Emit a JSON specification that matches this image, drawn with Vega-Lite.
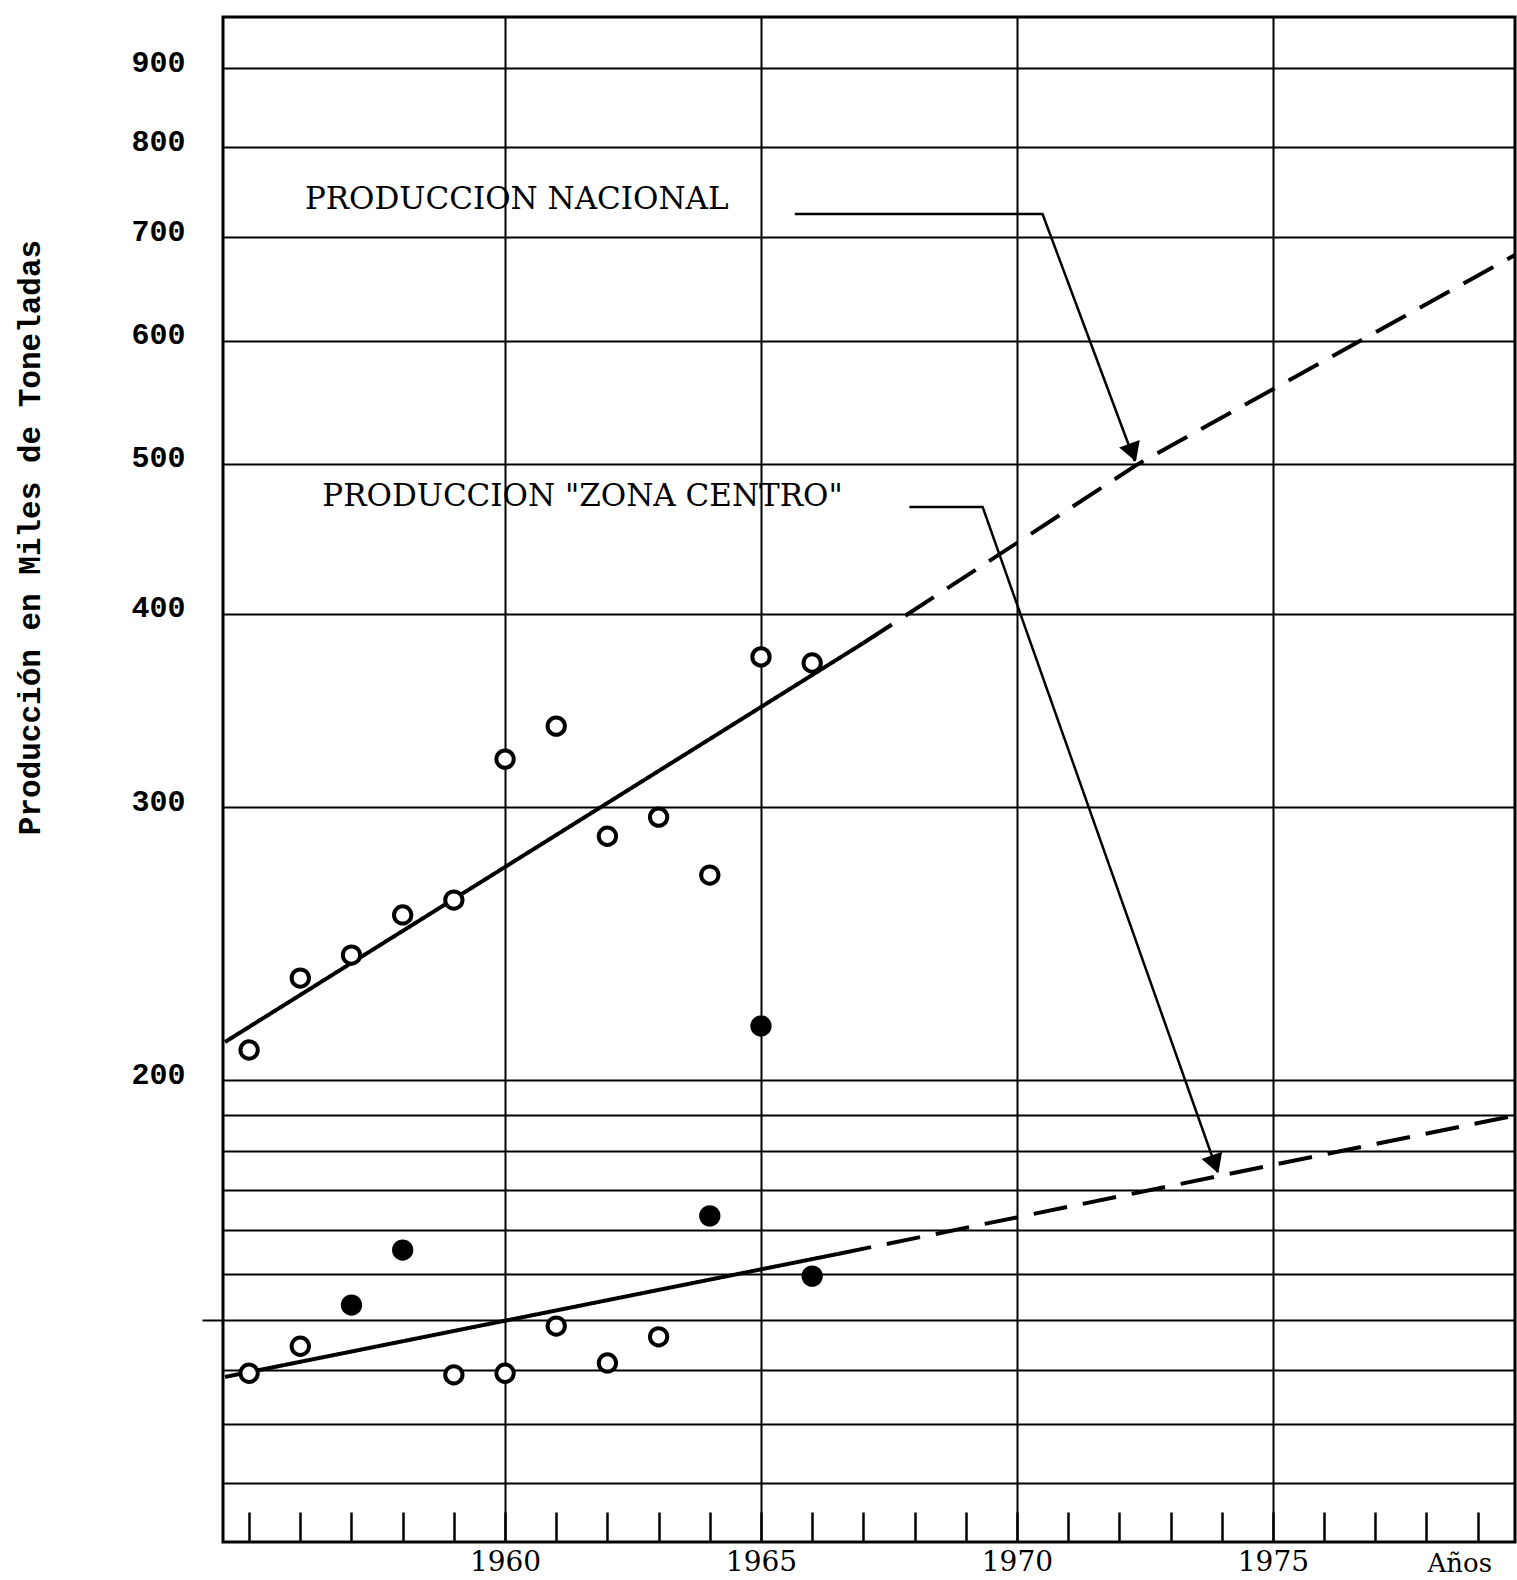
{
  "$schema": "https://vega.github.io/schema/vega-lite/v6.json",
  "width": 1292,
  "height": 1525,
  "autosize": {"type": "none"},
  "padding": {"left": 223, "top": 17, "right": 2, "bottom": 38},
  "background": "white",
  "config": {"view": {"stroke": "black", "strokeWidth": 3}},
  "datasets": {
    "puntos": [
      {"anio": 1955, "valor": 209.2, "serie": "Nacional", "marca": "abierto"},
      {"anio": 1956, "valor": 232.8, "serie": "Nacional", "marca": "abierto"},
      {"anio": 1957, "valor": 240.9, "serie": "Nacional", "marca": "abierto"},
      {"anio": 1958, "valor": 255.7, "serie": "Nacional", "marca": "abierto"},
      {"anio": 1959, "valor": 261.4, "serie": "Nacional", "marca": "abierto"},
      {"anio": 1960, "valor": 322.3, "serie": "Nacional", "marca": "abierto"},
      {"anio": 1961, "valor": 338.5, "serie": "Nacional", "marca": "abierto"},
      {"anio": 1962, "valor": 287.4, "serie": "Nacional", "marca": "abierto"},
      {"anio": 1963, "valor": 295.7, "serie": "Nacional", "marca": "abierto"},
      {"anio": 1964, "valor": 271.3, "serie": "Nacional", "marca": "abierto"},
      {"anio": 1965, "valor": 375.2, "serie": "Nacional", "marca": "abierto"},
      {"anio": 1965, "valor": 216.8, "serie": "Nacional", "marca": "relleno"},
      {"anio": 1966, "valor": 371.8, "serie": "Nacional", "marca": "abierto"},
      {"anio": 1955, "valor": 129.4, "serie": "Zona Centro", "marca": "abierto"},
      {"anio": 1956, "valor": 134.7, "serie": "Zona Centro", "marca": "abierto"},
      {"anio": 1957, "valor": 143.2, "serie": "Zona Centro", "marca": "relleno"},
      {"anio": 1958, "valor": 155.4, "serie": "Zona Centro", "marca": "relleno"},
      {"anio": 1959, "valor": 129.1, "serie": "Zona Centro", "marca": "abierto"},
      {"anio": 1960, "valor": 129.4, "serie": "Zona Centro", "marca": "abierto"},
      {"anio": 1961, "valor": 138.8, "serie": "Zona Centro", "marca": "abierto"},
      {"anio": 1962, "valor": 131.4, "serie": "Zona Centro", "marca": "abierto"},
      {"anio": 1963, "valor": 136.6, "serie": "Zona Centro", "marca": "abierto"},
      {"anio": 1964, "valor": 163.5, "serie": "Zona Centro", "marca": "relleno"},
      {"anio": 1966, "valor": 149.5, "serie": "Zona Centro", "marca": "relleno"}
    ],
    "tendencias": [
      {"serie": "Nacional", "tramo": "observado", "anio": 1954.53, "valor": 211.7},
      {"serie": "Nacional", "tramo": "observado", "anio": 1967.0, "valor": 383.0},
      {"serie": "Nacional", "tramo": "proyectado", "anio": 1967.0, "valor": 383.0},
      {"serie": "Nacional", "tramo": "proyectado", "anio": 1972.34, "valor": 499.1},
      {"serie": "Nacional", "tramo": "proyectado", "anio": 1979.73, "valor": 681.7},
      {"serie": "Zona Centro", "tramo": "observado", "anio": 1954.53, "valor": 128.7},
      {"serie": "Zona Centro", "tramo": "observado", "anio": 1966.5, "valor": 154.5},
      {"serie": "Zona Centro", "tramo": "proyectado", "anio": 1966.5, "valor": 154.5},
      {"serie": "Zona Centro", "tramo": "proyectado", "anio": 1979.73, "valor": 189.8}
    ],
    "guias": [
      {"guia": "Nacional", "orden": 1, "anio": 1965.66, "valor": 724.6},
      {"guia": "Nacional", "orden": 2, "anio": 1970.5, "valor": 724.6},
      {"guia": "Nacional", "orden": 3, "anio": 1972.3, "valor": 502},
      {"guia": "Zona Centro", "orden": 1, "anio": 1967.9, "valor": 468.8},
      {"guia": "Zona Centro", "orden": 2, "anio": 1969.33, "valor": 468.8},
      {"guia": "Zona Centro", "orden": 3, "anio": 1973.92, "valor": 174.5}
    ],
    "flechas": [
      {"guia": "Nacional", "anio": 1972.24, "valor": 510.5},
      {"guia": "Zona Centro", "anio": 1973.85, "valor": 177.3}
    ],
    "etiquetas": [
      {"anio": 1956.09, "valor": 739.8, "texto": "PRODUCCION NACIONAL"},
      {"anio": 1956.43, "valor": 475.8, "texto": "PRODUCCION \"ZONA CENTRO\""}
    ]
  },
  "encoding": {
    "x": {
      "field": "anio",
      "type": "quantitative",
      "scale": {"domain": [1954.49, 1979.73], "nice": false, "zero": false},
      "axis": {
        "values": [1955, 1956, 1957, 1958, 1959, 1960, 1961, 1962, 1963, 1964, 1965, 1966, 1967, 1968, 1969, 1970, 1971, 1972, 1973, 1974, 1975, 1976, 1977, 1978, 1979],
        "title": "Años",
        "grid": true,
        "gridColor": "black",
        "gridWidth": 2,
        "gridOpacity": {"condition": {"test": "datum.value % 5 === 0 && datum.value >= 1960", "value": 1}, "value": 0},
        "domain": false,
        "ticks": true,
        "tickSize": -30,
        "tickColor": "black",
        "tickWidth": 2.5,
        "labelExpr": "datum.value % 5 === 0 && datum.value >= 1960 ? format(datum.value, 'd') : ''",
        "labelFont": "DejaVu Serif",
        "labelFontSize": 28,
        "labelColor": "black",
        "labelPadding": 36,
        "labelOverlap": false,
        "labelFlush": false,
        "labelBound": false,
        "titleFont": "DejaVu Serif",
        "titleFontSize": 26,
        "titleFontWeight": "normal",
        "titleColor": "black",
        "titleX": 1204,
        "titleY": 21,
        "titleAlign": "left",
        "titleBaseline": "middle"
      }
    },
    "y": {
      "field": "valor",
      "type": "quantitative",
      "scale": {"type": "log", "domain": [100.7, 971], "nice": false},
      "axis": {
        "values": [110, 120, 130, 140, 150, 160, 170, 180, 190, 200, 300, 400, 500, 600, 700, 800, 900],
        "grid": true,
        "gridColor": "black",
        "gridWidth": 2,
        "domain": false,
        "ticks": true,
        "tickSize": 21,
        "tickWidth": 2,
        "tickColor": "black",
        "tickOpacity": {"condition": {"test": "datum.value === 140", "value": 1}, "value": 0},
        "labelExpr": "datum.value >= 200 && datum.value % 100 === 0 ? format(datum.value, 'd') : ''",
        "labelFont": "Liberation Mono",
        "labelFontWeight": "bold",
        "labelFontSize": 30,
        "labelColor": "black",
        "labelPadding": 17,
        "labelOffset": -6,
        "labelOverlap": false,
        "labelFlush": false,
        "labelBound": false,
        "title": "Producción en Miles de Toneladas",
        "titleFont": "Liberation Mono",
        "titleFontWeight": "bold",
        "titleFontSize": 31,
        "titleColor": "black",
        "titleX": -193,
        "titleY": 520,
        "titleAlign": "center",
        "titleBaseline": "middle"
      }
    }
  },
  "layer": [
    {
      "data": {"name": "tendencias"},
      "mark": {"type": "line", "color": "black", "strokeWidth": 4},
      "encoding": {
        "detail": {"field": "serie"},
        "strokeDash": {
          "field": "tramo",
          "type": "nominal",
          "scale": {"domain": ["observado", "proyectado"], "range": [[1, 0], [34, 16]]},
          "legend": null
        }
      }
    },
    {
      "data": {"name": "guias"},
      "mark": {"type": "line", "color": "black", "strokeWidth": 2.5},
      "encoding": {
        "detail": {"field": "guia"},
        "order": {"field": "orden", "type": "quantitative"}
      }
    },
    {
      "data": {"name": "flechas"},
      "mark": {"type": "point", "shape": "triangle", "angle": 160, "size": 480, "filled": true, "color": "black", "opacity": 1},
      "encoding": {}
    },
    {
      "data": {"name": "puntos"},
      "mark": {"type": "point", "shape": "circle", "size": 300, "strokeWidth": 4, "stroke": "black", "filled": true, "opacity": 1},
      "encoding": {
        "fill": {
          "field": "marca",
          "type": "nominal",
          "scale": {"domain": ["abierto", "relleno"], "range": ["white", "black"]},
          "legend": null
        }
      }
    },
    {
      "data": {"name": "etiquetas"},
      "mark": {"type": "text", "align": "left", "baseline": "middle", "font": "DejaVu Serif", "fontSize": 31, "color": "black"},
      "encoding": {
        "text": {"field": "texto", "type": "nominal"}
      }
    }
  ]
}
